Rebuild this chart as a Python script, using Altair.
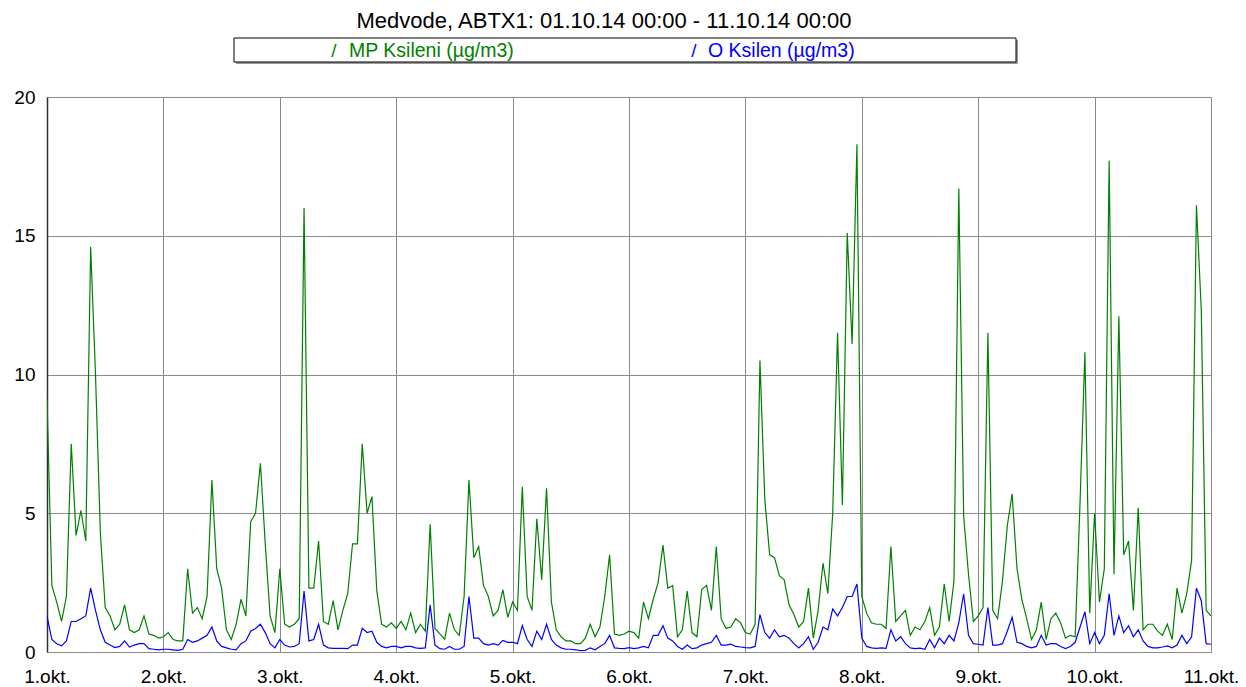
import json
import altair as alt
import pandas as pd

title_text = "Medvode, ABTX1: 01.10.14 00:00 - 11.10.14 00:00"
series_names = ["MP Ksileni (µg/m3)", "O Ksilen (µg/m3)"]
series_colors = ["#008000", "#0000FF"]
day_labels = ["1.okt.", "2.okt.", "3.okt.", "4.okt.", "5.okt.", "6.okt.",
              "7.okt.", "8.okt.", "9.okt.", "10.okt.", "11.okt."]
y_ticks = [0, 5, 10, 15, 20]

# hourly values, MP Ksileni (green)
mp_d1 = [9.1, 2.4, 1.8, 1.1, 2.0, 7.5, 4.2, 5.1, 4.0, 14.6, 10.0, 4.3, 1.6, 1.3, 0.8, 1.0, 1.7, 0.8, 0.7, 0.8, 1.3, 0.65, 0.6, 0.5]
mp_d2 = [0.55, 0.7, 0.45, 0.4, 0.4, 3.0, 1.4, 1.6, 1.2, 2.0, 6.2, 3.0, 2.3, 0.8, 0.45, 1.0, 1.9, 1.3, 4.7, 5.0, 6.8, 3.9, 1.3, 0.7]
mp_d3 = [3.0, 1.0, 0.9, 1.0, 1.2, 16.0, 2.3, 2.3, 4.0, 1.1, 1.0, 1.85, 0.8, 1.5, 2.1, 3.9, 3.9, 7.5, 5.0, 5.6, 2.2, 1.0, 0.9, 1.05]
mp_d4 = [0.85, 1.1, 0.8, 1.4, 0.7, 1.0, 0.75, 4.6, 0.85, 0.65, 0.46, 1.4, 0.8, 0.6, 2.0, 6.2, 3.4, 3.8, 2.4, 2.0, 1.3, 1.5, 2.25, 1.25]
mp_d5 = [1.8, 1.5, 5.95, 2.0, 1.5, 4.8, 2.6, 5.9, 1.8, 0.8, 0.55, 0.4, 0.4, 0.3, 0.3, 0.5, 1.0, 0.55, 0.9, 2.0, 3.5, 0.65, 0.6, 0.65]
mp_d6 = [0.75, 0.7, 0.5, 1.8, 1.2, 1.9, 2.5, 3.85, 2.3, 2.4, 0.55, 0.8, 2.2, 0.7, 0.55, 2.25, 2.4, 1.5, 3.8, 1.2, 0.85, 0.9, 1.2, 1.05]
mp_d7 = [0.7, 0.65, 1.0, 10.5, 5.5, 3.5, 3.4, 2.75, 2.6, 1.7, 1.35, 0.9, 1.1, 2.3, 0.5, 1.5, 3.2, 2.1, 5.0, 11.5, 5.3, 15.1, 11.1, 18.3]
mp_d8 = [2.0, 1.4, 1.05, 1.0, 1.0, 0.85, 3.8, 1.1, 1.3, 1.5, 0.6, 0.9, 0.8, 1.1, 1.6, 0.6, 0.9, 2.45, 1.1, 2.55, 16.7, 4.9, 2.8, 1.1]
mp_d9 = [1.3, 1.6, 11.5, 1.5, 1.2, 2.55, 4.55, 5.7, 3.0, 1.9, 1.2, 0.45, 0.8, 1.8, 0.45, 1.2, 1.4, 1.05, 0.5, 0.6, 0.55, 5.4, 10.8, 1.4]
mp_d10 = [5.0, 1.8, 3.0, 17.7, 2.8, 12.1, 3.5, 4.0, 1.5, 5.2, 0.8, 1.0, 1.0, 0.75, 0.6, 1.0, 0.45, 2.3, 1.4, 2.1, 3.3, 16.1, 12.3, 1.5, 1.3]

# hourly values, O Ksilen (blue)
o_d1 = [1.3, 0.45, 0.3, 0.22, 0.4, 1.1, 1.1, 1.2, 1.3, 2.3, 1.5, 0.8, 0.35, 0.25, 0.16, 0.2, 0.4, 0.18, 0.25, 0.3, 0.3, 0.12, 0.1, 0.08]
o_d2 = [0.1, 0.1, 0.08, 0.06, 0.1, 0.45, 0.35, 0.4, 0.5, 0.6, 0.9, 0.4, 0.2, 0.15, 0.1, 0.08, 0.3, 0.4, 0.75, 0.85, 1.0, 0.7, 0.3, 0.15]
o_d3 = [0.45, 0.25, 0.18, 0.2, 0.3, 2.2, 0.4, 0.45, 1.0, 0.25, 0.15, 0.13, 0.13, 0.13, 0.12, 0.25, 0.25, 0.85, 0.7, 0.75, 0.35, 0.2, 0.15, 0.2]
o_d4 = [0.2, 0.15, 0.2, 0.2, 0.15, 0.13, 0.15, 1.7, 0.25, 0.12, 0.1, 0.2, 0.1, 0.1, 0.2, 2.0, 0.5, 0.5, 0.3, 0.25, 0.3, 0.25, 0.42, 0.35]
o_d5 = [0.35, 0.3, 0.95, 0.45, 0.2, 0.75, 0.45, 1.0, 0.45, 0.25, 0.15, 0.1, 0.1, 0.08, 0.05, 0.06, 0.15, 0.08, 0.2, 0.3, 0.6, 0.15, 0.13, 0.12]
o_d6 = [0.16, 0.12, 0.15, 0.2, 0.15, 0.6, 0.6, 0.95, 0.5, 0.4, 0.2, 0.1, 0.25, 0.12, 0.15, 0.25, 0.3, 0.35, 0.6, 0.25, 0.25, 0.28, 0.2, 0.18]
o_d7 = [0.16, 0.15, 0.2, 1.35, 0.7, 0.5, 0.8, 0.55, 0.6, 0.5, 0.3, 0.15, 0.3, 0.55, 0.1, 0.35, 0.9, 0.8, 1.55, 1.3, 1.6, 2.0, 2.0, 2.45]
o_d8 = [0.5, 0.2, 0.15, 0.13, 0.15, 0.13, 0.8, 0.4, 0.55, 0.3, 0.15, 0.12, 0.14, 0.1, 0.45, 0.15, 0.5, 0.3, 0.6, 0.4, 1.05, 2.1, 0.6, 0.3]
o_d9 = [0.28, 0.25, 1.6, 0.25, 0.25, 0.3, 0.75, 1.25, 0.35, 0.3, 0.2, 0.15, 0.2, 0.6, 0.25, 0.3, 0.3, 0.2, 0.12, 0.2, 0.35, 0.9, 1.45, 0.3]
o_d10 = [0.7, 0.3, 0.6, 2.1, 0.6, 1.3, 0.7, 0.95, 0.55, 0.8, 0.4, 0.2, 0.15, 0.15, 0.18, 0.22, 0.15, 0.25, 0.6, 0.3, 0.55, 2.3, 1.85, 0.3, 0.28]

mp = mp_d1 + mp_d2 + mp_d3 + mp_d4 + mp_d5 + mp_d6 + mp_d7 + mp_d8 + mp_d9 + mp_d10
o = o_d1 + o_d2 + o_d3 + o_d4 + o_d5 + o_d6 + o_d7 + o_d8 + o_d9 + o_d10

df_mp = pd.DataFrame({"hour": list(range(len(mp))), "value": mp, "series": series_names[0]})
df_o = pd.DataFrame({"hour": list(range(len(o))), "value": o, "series": series_names[1]})

FONT = "Liberation Sans"
W, H = 1164, 555

label_expr = "%s[round(datum.value / 24)]" % json.dumps(day_labels)

x_enc = alt.X("hour:Q",
              scale=alt.Scale(domain=[0, 240], nice=False, zero=False),
              axis=alt.Axis(values=[24 * i for i in range(11)], labelExpr=label_expr,
                            title=None, grid=True, gridColor="#8a8a8a", gridWidth=1,
                            domain=False, ticks=False, labelPadding=15,
                            labelFont=FONT, labelFontSize=19, labelColor="black",
                            labelOverlap=False, labelFlush=False))
y_enc = alt.Y("value:Q",
              scale=alt.Scale(domain=[0, 20], nice=False),
              axis=alt.Axis(values=y_ticks, title=None, grid=True, gridColor="#8a8a8a",
                            gridWidth=1, domain=True, domainColor="#303030", domainWidth=1.5,
                            ticks=False, labelPadding=12, labelFont=FONT, labelFontSize=19,
                            labelColor="black"))

line_mp = alt.Chart(df_mp).mark_line(color=series_colors[0], strokeWidth=1.2, clip=True).encode(
    x=x_enc, y=y_enc)
line_o = alt.Chart(df_o).mark_line(color=series_colors[1], strokeWidth=1.2, clip=True).encode(
    x="hour:Q", y="value:Q")

# legend box
legend_box_df = pd.DataFrame({"k": [0]})
legend_shadow = alt.Chart(legend_box_df).mark_rect(fill="#9a9a9a").encode(
    x=alt.value(189), x2=alt.value(971), y=alt.value(-57), y2=alt.value(-33))
legend_box = alt.Chart(legend_box_df).mark_rect(fill="white", stroke="black", strokeWidth=1).encode(
    x=alt.value(187), x2=alt.value(969), y=alt.value(-59), y2=alt.value(-35))

legend_df = pd.DataFrame({
    "series": series_names,
    "color": series_colors,
    "xs": [287, 647],
    "xt": [302, 661],
})
legend_sym = alt.Chart(legend_df).mark_text(font=FONT, fontSize=19, align="center",
                                            baseline="middle").encode(
    x=alt.X("xs:Q", scale=None), y=alt.value(-46), text=alt.value("/"),
    color=alt.Color("color:N", scale=None))
legend_txt = alt.Chart(legend_df).mark_text(font=FONT, fontSize=19.5, align="left",
                                            baseline="middle").encode(
    x=alt.X("xt:Q", scale=None), y=alt.value(-46), text="series:N",
    color=alt.Color("color:N", scale=None))

chart = alt.layer(line_mp, line_o, legend_shadow, legend_box, legend_sym, legend_txt).properties(
    width=W, height=H,
    title=alt.TitleParams(text=title_text, anchor="middle", frame="group", offset=5, dx=-25,
                          font=FONT, fontSize=22, fontWeight="normal", color="black"),
    autosize=alt.AutoSizeParams(type="none"),
    padding={"left": 39, "top": 89, "right": 27, "bottom": 40},
).configure_view(stroke="#404040", strokeWidth=1).configure(background="white")

chart.save("out.html", embed_options={"renderer": "svg", "actions": False})
